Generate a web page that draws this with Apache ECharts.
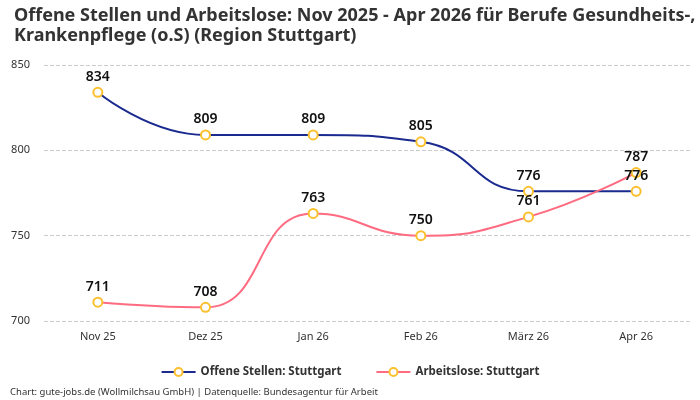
<!DOCTYPE html>
<html>
<head>
<meta charset="utf-8">
<script src="https://cdn.jsdelivr.net/npm/echarts@6/dist/echarts.min.js"></script>
<style>
  html, body { margin: 0; padding: 0; background: #fff; }
  #chart { width: 700px; height: 400px; }
</style>
</head>
<body>
<div id="chart"></div>
<script>
const months = ['Nov 25', 'Dez 25', 'Jan 26', 'Feb 26', 'März 26', 'Apr 26']
const offeneStellen = [834, 809, 809, 805, 776, 776]
const arbeitslose = [711, 708, 763, 750, 761, 787]

const fontFamily = '"Noto Sans", Roboto, sans-serif'

const chart = echarts.init(document.getElementById('chart'), null, { renderer: 'canvas' })

const labelStyle = {
  show: true,
  position: 'top',
  distance: 3,
  color: '#111',
  fontSize: 14,
  fontWeight: 600,
  fontFamily: fontFamily
}

const option = {
  animation: false,
  textStyle: { fontFamily: fontFamily },
  title: {
    text: 'Offene Stellen und Arbeitslose: Nov 2025 - Apr 2026 für Berufe Gesundheits-,\nKrankenpflege (o.S) (Region Stuttgart)',
    left: 9,
    top: 1,
    textStyle: {
      fontSize: 18,
      fontWeight: 'bold',
      color: '#333',
      lineHeight: 20,
      fontFamily: fontFamily
    }
  },
  grid: {
    left: 44,
    right: 10,
    top: 65,
    bottom: 79
  },
  legend: {
    bottom: 17,
    left: 'center',
    itemWidth: 34,
    itemHeight: 10,
    itemGap: 34,
    textStyle: { fontSize: 11.5, fontWeight: 'bold', color: '#333' },
    data: ['Offene Stellen: Stuttgart', 'Arbeitslose: Stuttgart']
  },
  graphic: [{
    type: 'text',
    left: 10,
    bottom: 3,
    style: {
      text: 'Chart: gute-jobs.de (Wollmilchsau GmbH) | Datenquelle: Bundesagentur für Arbeit',
      fontSize: 9.5,
      fill: '#333',
      fontFamily: fontFamily
    }
  }],
  xAxis: {
    type: 'category',
    data: months,
    boundaryGap: true,
    axisLine: { show: false },
    axisTick: { show: false },
    axisLabel: { color: '#333', fontSize: 11, margin: 10 }
  },
  yAxis: {
    type: 'value',
    min: 700,
    max: 850,
    interval: 50,
    axisLabel: { color: '#333', fontSize: 11, margin: 14 },
    splitLine: { lineStyle: { type: 'dashed', color: '#ccc' } }
  },
  series: [
    {
      name: 'Offene Stellen: Stuttgart',
      type: 'line',
      smooth: true,
      data: offeneStellen,
      symbol: 'circle',
      symbolSize: 9,
      lineStyle: { color: '#1a2a8f', width: 2 },
      itemStyle: { color: '#fff', borderColor: '#fbc02d', borderWidth: 2 },
      label: labelStyle
    },
    {
      name: 'Arbeitslose: Stuttgart',
      type: 'line',
      smooth: true,
      data: arbeitslose,
      symbol: 'circle',
      symbolSize: 9,
      lineStyle: { color: '#ff6b81', width: 2 },
      itemStyle: { color: '#fff', borderColor: '#fbc02d', borderWidth: 2 },
      label: labelStyle
    }
  ]
}

chart.setOption(option)
window.addEventListener('resize', chart.resize)
</script>
</body>
</html>
